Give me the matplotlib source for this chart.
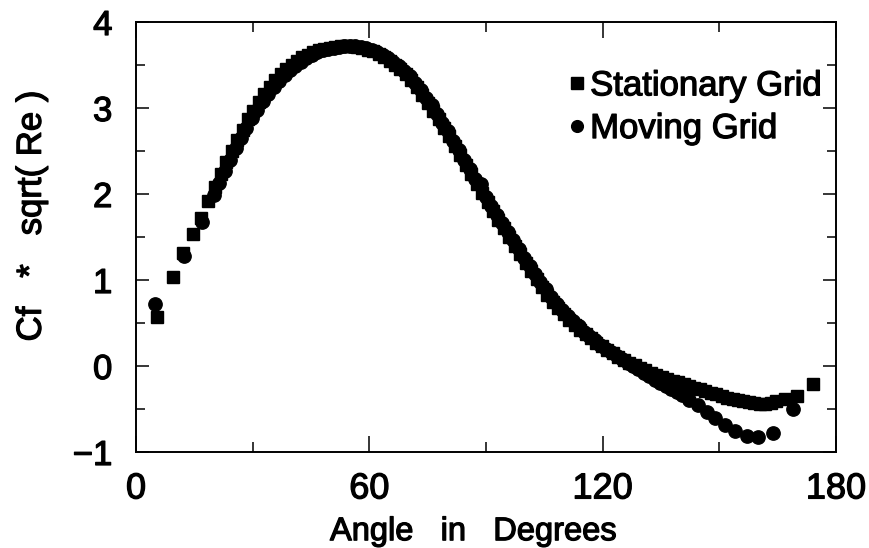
import matplotlib
matplotlib.use("Agg")
import matplotlib.pyplot as plt
import matplotlib.patheffects as pe
from matplotlib.ticker import MultipleLocator, FixedLocator

plt.rcParams['font.family'] = ['Liberation Sans', 'DejaVu Sans']

# Stationary grid (squares)
stat_angle = [5.3, 9.6, 12.2, 14.7, 16.7, 18.6, 20.3, 21.8, 23.2, 24.6,
              26.0, 27.4, 28.8, 30.2, 31.6, 33.0, 34.4, 35.8, 37.2, 38.6,
              40.0, 41.4, 42.8, 44.2, 45.6, 47.0, 48.4, 49.8, 51.2, 52.6,
              54.0, 55.4, 56.8, 58.2, 59.6, 61.0, 62.4, 63.8, 65.2, 66.6,
              68.0, 69.4, 70.8, 72.2, 73.6, 75.0, 76.4, 77.8, 79.2, 80.6,
              82.0, 83.4, 84.8, 86.2, 87.6, 89.0, 90.4, 91.8, 93.2, 94.6,
              96.0, 97.4, 98.8, 100.2, 101.6, 103.0, 104.4, 105.8, 107.2, 108.6,
              110.0, 111.4, 112.8, 114.2, 115.6, 117.0, 118.4, 119.8, 121.2, 122.6,
              124.0, 125.4, 126.8, 128.2, 129.6, 131.0, 132.4, 133.8, 135.2, 136.6,
              138.0, 139.4, 140.8, 142.2, 143.6, 145.0, 146.4, 147.8, 149.2, 150.6,
              152.0, 153.4, 154.8, 156.2, 157.6, 159.0, 160.4, 161.8, 163.2, 164.6,
              166.9, 169.9, 174.2]
stat_cf = [0.57, 1.03, 1.31, 1.54, 1.72, 1.92, 2.08, 2.23, 2.37, 2.50,
           2.63, 2.75, 2.87, 2.97, 3.07, 3.16, 3.25, 3.32, 3.39, 3.45,
           3.50, 3.55, 3.59, 3.62, 3.65, 3.67, 3.69, 3.70, 3.71, 3.72,
           3.72, 3.72, 3.71, 3.70, 3.68, 3.66, 3.63, 3.59, 3.55, 3.50,
           3.45, 3.39, 3.33, 3.24, 3.15, 3.06, 2.97, 2.87, 2.77, 2.67,
           2.56, 2.45, 2.34, 2.23, 2.12, 2.01, 1.91, 1.80, 1.70, 1.60,
           1.50, 1.40, 1.30, 1.20, 1.10, 1.01, 0.92, 0.83, 0.75, 0.68,
           0.61, 0.54, 0.48, 0.42, 0.37, 0.32, 0.27, 0.23, 0.19, 0.15,
           0.11, 0.07, 0.04, 0.01, -0.02, -0.05, -0.08, -0.11, -0.13, -0.15,
           -0.17, -0.19, -0.21, -0.23, -0.25, -0.27, -0.29, -0.31, -0.33, -0.35,
           -0.37, -0.38, -0.40, -0.41, -0.42, -0.43, -0.44, -0.44, -0.43, -0.41,
           -0.38, -0.35, -0.21]

# Moving grid (circles)
mov_angle = [4.9, 12.4, 16.9, 20.0, 21.4, 22.8, 24.2, 25.6, 27.0, 28.4,
             29.8, 31.2, 32.6, 34.0, 35.4, 36.8, 38.2, 39.6, 41.0, 42.4,
             43.8, 45.2, 46.6, 48.0, 49.4, 50.8, 52.2, 53.6, 55.0, 56.4,
             57.8, 59.2, 60.6, 62.0, 63.4, 64.8, 66.2, 67.6, 69.0, 70.4,
             71.8, 73.2, 74.6, 76.0, 77.4, 78.8, 80.2, 81.6, 83.0, 84.4,
             85.8, 87.2, 88.6, 90.0, 91.4, 92.8, 94.2, 95.6, 97.0, 98.4,
             99.8, 101.2, 102.6, 104.0, 105.4, 106.8, 108.2, 109.6, 111.0, 112.4,
             113.8, 115.2, 116.6, 118.0, 119.4, 120.8, 122.2, 123.6, 125.0, 126.4,
             127.8, 129.2, 130.6, 132.0, 133.4, 134.8, 136.2, 137.6, 139.0, 140.4,
             142.3, 144.6, 146.7, 148.9, 151.4, 154.0, 157.0, 160.0, 163.9, 168.9]
mov_cf = [0.72, 1.28, 1.68, 1.99, 2.13, 2.27, 2.40, 2.53, 2.65, 2.77,
          2.88, 2.98, 3.08, 3.16, 3.24, 3.31, 3.38, 3.44, 3.49, 3.54,
          3.58, 3.62, 3.65, 3.67, 3.69, 3.70, 3.71, 3.72, 3.72, 3.72,
          3.71, 3.70, 3.68, 3.65, 3.62, 3.58, 3.54, 3.49, 3.43, 3.37,
          3.29, 3.21, 3.12, 3.03, 2.93, 2.83, 2.73, 2.62, 2.51, 2.40,
          2.29, 2.18, 2.12, 1.97, 1.86, 1.76, 1.66, 1.56, 1.46, 1.36,
          1.26, 1.16, 1.07, 0.98, 0.89, 0.80, 0.72, 0.65, 0.58, 0.52,
          0.46, 0.40, 0.35, 0.30, 0.25, 0.20, 0.16, 0.12, 0.08, 0.04,
          0.00, -0.04, -0.08, -0.12, -0.16, -0.20, -0.23, -0.27, -0.30, -0.34,
          -0.39, -0.45, -0.53, -0.61, -0.69, -0.76, -0.81, -0.83, -0.78, -0.50]

x_major = [0, 60, 120, 180]
x_minor = [30, 90, 150]
y_labels = [-1, 0, 1, 2, 3, 4]

fig = plt.figure(figsize=(8.69, 5.48), dpi=100)
ax = fig.add_axes([136/869, 1-452/548, 700/869, 430/548])

ms = 9.6
ax.plot(mov_angle, mov_cf, linestyle='none', marker='o', ms=ms,
        color='black', mec='black', label='Moving Grid', zorder=2)
ax.plot(stat_angle, stat_cf, linestyle='none', marker='s', ms=ms - 0.4,
        color='black', mec='black', label='Stationary Grid', zorder=3)

ax.set_xlim(0, 180)
ax.set_ylim(-1, 4)
ax.xaxis.set_major_locator(FixedLocator(x_major))
ax.xaxis.set_minor_locator(FixedLocator(x_minor))
ax.yaxis.set_major_locator(FixedLocator(y_labels))
ax.yaxis.set_minor_locator(MultipleLocator(0.5))

fs = 25
ax.tick_params(axis='both', which='both', direction='in', top=True, right=True,
               width=1.1, colors='black')
ax.tick_params(axis='x', which='major', length=11.5, pad=14, labelsize=26)
ax.tick_params(axis='x', which='minor', length=7.2)
ax.tick_params(axis='y', which='major', length=9.4, pad=17, labelsize=fs)
ax.tick_params(axis='y', which='minor', length=6.5)
ax.set_yticklabels(['\u22121', '0', '1', '2', '3', '4'])
for sp in ax.spines.values():
    sp.set_linewidth(1.4)

ax.set_xlabel('Angle   in   Degrees', fontsize=23.5, labelpad=7)
ax.xaxis.label.set_x(0.482)
ax.set_ylabel('Cf   *   sqrt( Re )', fontsize=fs, labelpad=18)
ax.yaxis.label.set_y(0.549)

h, l = ax.get_legend_handles_labels()
leg = ax.legend([h[1], h[0]], [l[1], l[0]], loc='upper left',
                bbox_to_anchor=(0.618, 0.89), frameon=False, fontsize=fs,
                handlelength=0.5, handletextpad=0.12, labelspacing=0.28,
                borderpad=0, borderaxespad=0, markerscale=0.88)

stroke = [pe.withStroke(linewidth=0.9, foreground='black')]
texts = ax.get_xticklabels() + ax.get_yticklabels() + leg.get_texts() + \
    [ax.xaxis.label, ax.yaxis.label]
for t in texts:
    t.set_path_effects(stroke)

fig.savefig('out.png', dpi=100)
